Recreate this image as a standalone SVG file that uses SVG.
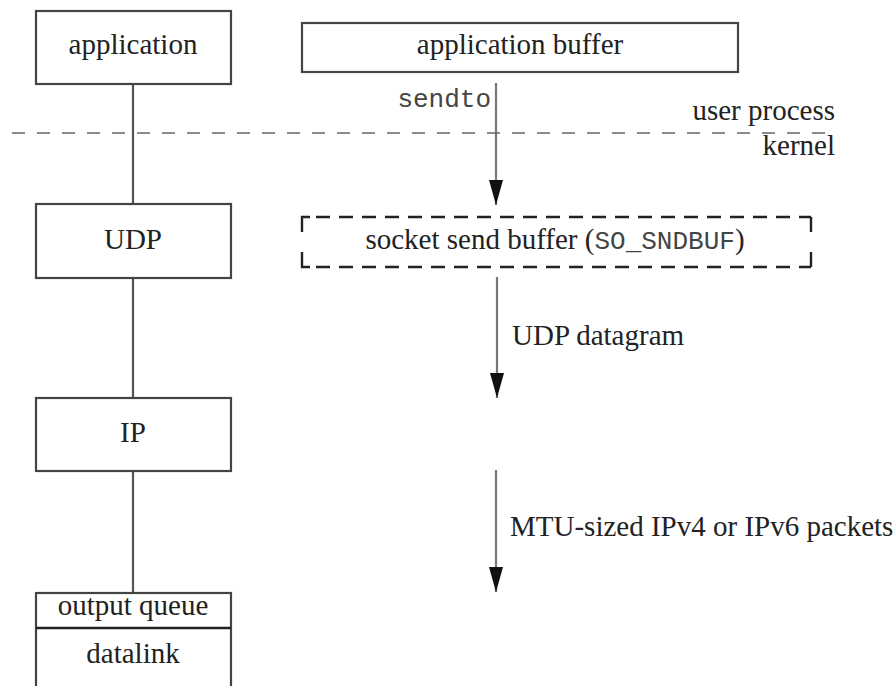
<svg xmlns="http://www.w3.org/2000/svg" width="895" height="686" viewBox="0 0 895 686">
<style>
.box{fill:#fff;stroke:#444;stroke-width:2.2}
.t{font-family:"Liberation Serif","Times New Roman",serif;font-size:29px;fill:#222}
.m{font-family:"Liberation Mono","Courier New",monospace;font-size:26px;fill:#444}
.ln{stroke:#555;stroke-width:2.2;fill:none}
.arr{stroke:#777;stroke-width:2.2;fill:none;marker-end:url(#ah)}
.dash{stroke:#222;stroke-width:2.4;fill:none;stroke-dasharray:14 9}
.sep{stroke:#666;stroke-width:1.6;fill:none;stroke-dasharray:13 12}
</style>
<defs>
<marker id="ah" viewBox="0 0 25 14" refX="25" refY="7" markerWidth="25" markerHeight="14" markerUnits="userSpaceOnUse" orient="auto">
<path d="M0,0 L25,7 L0,14 Z" fill="#111"/>
</marker>
</defs>
<rect width="895" height="686" fill="#fff"/>
<g id="connectors">
<line class="ln" x1="133" y1="84" x2="133" y2="204"/>
<line class="ln" x1="133" y1="278" x2="133" y2="398"/>
<line class="ln" x1="133" y1="471" x2="133" y2="593"/>
<line class="arr" x1="496" y1="83" x2="496" y2="205"/>
<line class="arr" x1="497" y1="277" x2="497" y2="398"/>
<line class="arr" x1="496" y1="470" x2="496" y2="592"/>
</g>
<g id="separator">
<line class="sep" x1="12" y1="133" x2="835" y2="133"/>
<text class="t" x="835" y="120" text-anchor="end">user process</text>
<text class="t" x="835" y="155" text-anchor="end">kernel</text>
</g>
<g id="application">
<rect class="box" x="36" y="11" width="195" height="73"/>
<text class="t" x="133" y="54" text-anchor="middle">application</text>
</g>
<g id="app-buffer">
<rect class="box" x="302" y="23" width="436" height="49"/>
<text class="t" x="520" y="54" text-anchor="middle">application buffer</text>
</g>
<g id="sendto-label">
<text class="m" x="491" y="107" text-anchor="end">sendto</text>
</g>
<g id="udp">
<rect class="box" x="36" y="204" width="195" height="74"/>
<text class="t" x="133" y="249" text-anchor="middle">UDP</text>
</g>
<g id="socket-buffer">
<path class="dash" d="M316,217 H811"/>
<path class="dash" d="M316,267 H811"/>
<path d="M302,232 V217 H310 M302,252 V267 H310 M811,217 V232 M811,252 V267" stroke="#222" stroke-width="2.4" fill="none"/>
<text class="t" x="555" y="249" text-anchor="middle">socket send buffer (<tspan class="m">SO_SNDBUF</tspan>)</text>
</g>
<g id="udp-datagram-label">
<text class="t" x="512" y="345">UDP datagram</text>
</g>
<g id="ip">
<rect class="box" x="36" y="398" width="195" height="73"/>
<text class="t" x="133" y="442" text-anchor="middle">IP</text>
</g>
<g id="mtu-label">
<text class="t" x="510" y="536">MTU-sized IPv4 or IPv6 packets</text>
</g>
<g id="datalink">
<rect class="box" x="36" y="593" width="195" height="110"/>
<line x1="36" y1="628" x2="231" y2="628" stroke="#222" stroke-width="2.4"/>
<text class="t" x="133" y="615" text-anchor="middle">output queue</text>
<text class="t" x="133" y="663" text-anchor="middle">datalink</text>
</g>
</svg>
